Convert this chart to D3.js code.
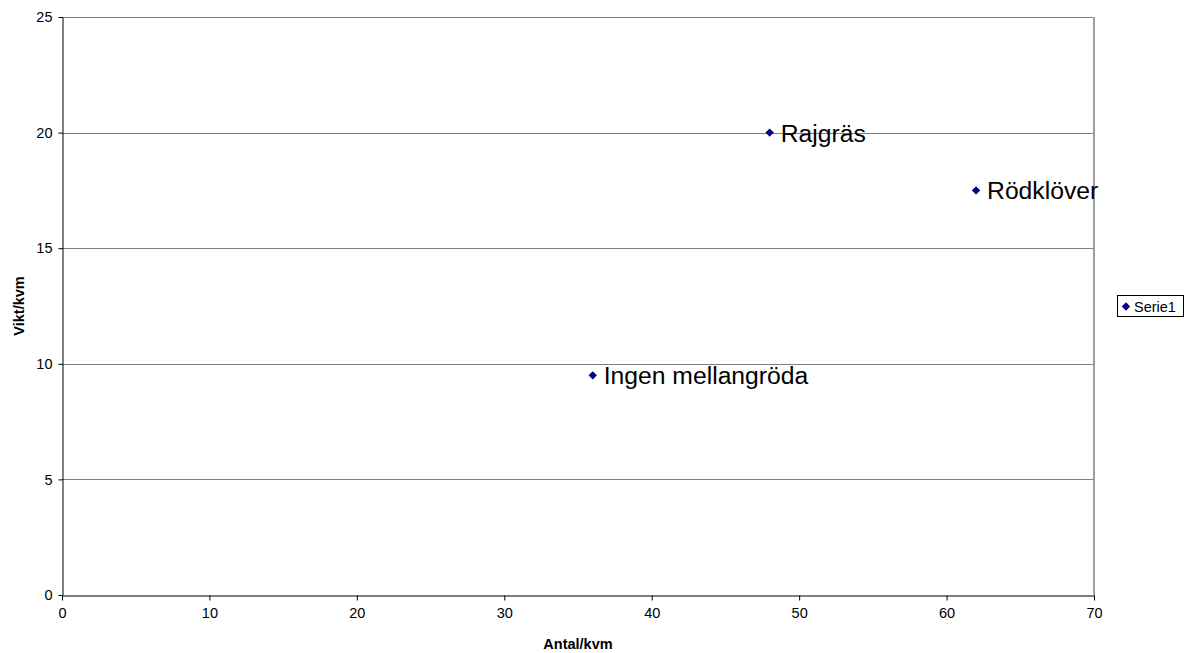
<!DOCTYPE html>
<html>
<head>
<meta charset="utf-8">
<script src="https://cdn.jsdelivr.net/npm/d3@7"></script>
<style>
  html, body { margin: 0; padding: 0; background: #fff; }
  svg { display: block; font-family: "Liberation Sans", Arial, sans-serif; }
</style>
</head>
<body>
<svg id="chart" width="1189" height="653"></svg>
<script>
// Point data: number per square metre vs. weight per square metre
const names = ["Ingen mellangröda", "Rajgräs", "Rödklöver"];
const antal = [36, 48, 62];
const vikt = [9.5, 20, 17.5];
const xTicks = [0, 10, 20, 30, 40, 50, 60, 70];
const yTicks = [0, 5, 10, 15, 20, 25];
const seriesName = "Serie1";

const svg = d3.select("#chart");
const plot = { left: 62, right: 1094, top: 17, bottom: 595 };

const x = d3.scaleLinear().domain([0, 70]).range([plot.left, plot.right]);
const y = d3.scaleLinear().domain([0, 25]).range([plot.bottom, plot.top]);

// Square diamond marker path (rotated square), half-diagonal r
const diamondPath = r => `M0,${-r}L${r},0L0,${r}L${-r},0Z`;

// Horizontal gridlines
svg.append("g")
  .selectAll("line")
  .data(yTicks.filter(d => d > 0))
  .join("line")
  .attr("x1", plot.left).attr("x2", plot.right)
  .attr("y1", d => Math.round(y(d)) + 0.5).attr("y2", d => Math.round(y(d)) + 0.5)
  .attr("stroke", "#808080").attr("stroke-width", 1);

// Right border of plot area
svg.append("line")
  .attr("x1", plot.right).attr("x2", plot.right)
  .attr("y1", plot.top).attr("y2", plot.bottom)
  .attr("stroke", "#a0a0a0").attr("stroke-width", 2);

// X axis
const xAxis = svg.append("g")
  .attr("transform", `translate(0,${Math.round(y(0)) + 0.5})`)
  .call(d3.axisBottom(x).tickValues(xTicks).tickSize(5).tickPadding(7).tickSizeOuter(0));
xAxis.select(".domain").attr("stroke", "#000");
xAxis.selectAll(".tick line").attr("stroke", "#000");
xAxis.selectAll(".tick text")
  .attr("font-size", 14.5).attr("fill", "#000")
  .attr("font-family", "Liberation Sans, Arial, sans-serif");

// Y axis
const yAxis = svg.append("g")
  .attr("transform", `translate(${Math.round(x(0)) + 0.5},0)`)
  .call(d3.axisLeft(y).tickValues(yTicks).tickSize(4).tickPadding(6).tickSizeOuter(0));
yAxis.select(".domain").attr("stroke", "#000");
yAxis.selectAll(".tick line").attr("stroke", "#000");
yAxis.selectAll(".tick text")
  .attr("font-size", 14.5).attr("fill", "#000")
  .attr("font-family", "Liberation Sans, Arial, sans-serif");

// Axis titles
svg.append("text")
  .attr("x", (plot.left + plot.right) / 2).attr("y", 649)
  .attr("text-anchor", "middle")
  .attr("font-size", 14.5).attr("font-weight", "bold")
  .text("Antal/kvm");

svg.append("text")
  .attr("transform", `translate(24,${(plot.top + plot.bottom) / 2}) rotate(-90)`)
  .attr("text-anchor", "middle")
  .attr("font-size", 14.5).attr("font-weight", "bold")
  .text("Vikt/kvm");

// Diamond markers
const pts = names.map((n, i) => ({ name: n, x: antal[i], y: vikt[i] }));

svg.append("g")
  .selectAll("path")
  .data(pts)
  .join("path")
  .attr("d", diamondPath(4.2))
  .attr("transform", d => `translate(${x(d.x)},${y(d.y)})`)
  .attr("fill", "#000080");

// Point labels
svg.append("g")
  .selectAll("text")
  .data(pts)
  .join("text")
  .attr("x", d => x(d.x) + 11)
  .attr("y", d => y(d.y) + 9)
  .attr("font-size", 24.7)
  .attr("fill", "#000")
  .text(d => d.name);

// Legend
const lg = svg.append("g").attr("transform", "translate(1117,295)");
lg.append("rect")
  .attr("x", 0.5).attr("y", 0.5).attr("width", 66).attr("height", 21)
  .attr("fill", "#fff").attr("stroke", "#000");
lg.append("path")
  .attr("d", diamondPath(4.2))
  .attr("transform", "translate(9,11.5)")
  .attr("fill", "#000080");
lg.append("text")
  .attr("x", 17).attr("y", 16.5)
  .attr("font-size", 14.5)
  .text(seriesName);
</script>
</body>
</html>
